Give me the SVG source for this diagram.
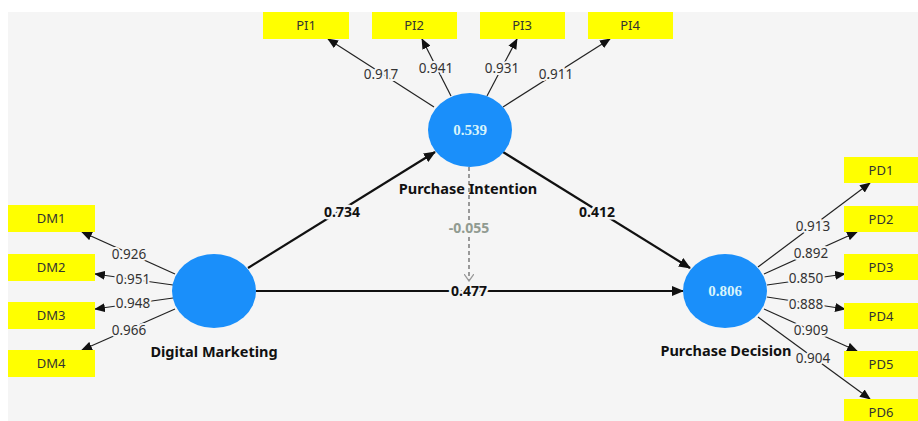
<svg xmlns="http://www.w3.org/2000/svg" width="918" height="421" viewBox="0 0 918 421">
<defs>
<marker id="ah" viewBox="0 0 12 10" refX="11" refY="5" markerWidth="12" markerHeight="10" markerUnits="userSpaceOnUse" orient="auto"><path d="M0,0 L12,5 L0,10 z" fill="#111"/></marker>
<marker id="ahs" viewBox="0 0 12 10" refX="11" refY="5" markerWidth="11" markerHeight="9" markerUnits="userSpaceOnUse" orient="auto"><path d="M0,0 L12,5 L0,10 z" fill="#111"/></marker>
<marker id="chev" viewBox="0 0 8 10" refX="7" refY="5" markerWidth="8" markerHeight="10" markerUnits="userSpaceOnUse" orient="auto"><path d="M0,0 L7,5 L0,10" fill="none" stroke="#999" stroke-width="1.3"/></marker>
</defs>
<style>
.bg{fill:#f5f5f5}
.lv{fill:#1a8ffa}
.ind{fill:#ffff00}
.it{font-family:"Noto Sans","Open Sans","DejaVu Sans",sans-serif;font-size:13px;fill:#333;text-anchor:middle}
.nl{font-family:"Noto Sans","Open Sans","DejaVu Sans",sans-serif;font-size:14.5px;font-weight:bold;fill:#111;text-anchor:middle}
.r2{font-family:"Liberation Serif","DejaVu Serif",serif;font-size:15px;font-weight:bold;fill:#d8f4fb;text-anchor:middle}
.outer{stroke:#222;stroke-width:1.2;fill:none;marker-end:url(#ahs)}
.inner{stroke:#111;stroke-width:2.2;fill:none;marker-end:url(#ah)}
.dash{stroke:#999;stroke-width:2;stroke-dasharray:4 3;fill:none;marker-end:url(#chev)}
.ll{font-family:"Noto Sans","Open Sans","DejaVu Sans",sans-serif;font-size:13.5px;fill:#333;text-anchor:middle;stroke:#f5f5f5;stroke-width:4;paint-order:stroke}
.pl{font-family:"Noto Sans","Open Sans","DejaVu Sans",sans-serif;font-size:14px;font-weight:bold;fill:#111;text-anchor:middle;stroke:#f5f5f5;stroke-width:5;paint-order:stroke}
.pg{font-family:"Noto Sans","Open Sans","DejaVu Sans",sans-serif;font-size:14px;font-weight:bold;fill:#919b91;text-anchor:middle;stroke:#f5f5f5;stroke-width:5;paint-order:stroke}
</style>
<rect class="bg" x="8" y="12" width="910" height="409"/>

<g id="connectors">
<line class="inner" x1="248" y1="268" x2="435" y2="152"/>
<line class="inner" x1="503" y1="152" x2="690" y2="268"/>
<line class="inner" x1="256" y1="291" x2="683" y2="291"/>
<line class="dash" x1="469" y1="167" x2="469" y2="281"/>
<line class="outer" x1="434" y1="107" x2="328" y2="39"/>
<line class="outer" x1="451" y1="96" x2="422" y2="39"/>
<line class="outer" x1="487" y1="96" x2="517" y2="39"/>
<line class="outer" x1="503" y1="107" x2="610" y2="39"/>
<line class="outer" x1="175" y1="274" x2="82" y2="232"/>
<line class="outer" x1="173" y1="285" x2="95" y2="274"/>
<line class="outer" x1="173" y1="298" x2="95" y2="309"/>
<line class="outer" x1="175" y1="309" x2="82" y2="350"/>
<line class="outer" x1="758" y1="267" x2="870" y2="183"/>
<line class="outer" x1="764" y1="274" x2="857" y2="232"/>
<line class="outer" x1="767" y1="285" x2="845" y2="274"/>
<line class="outer" x1="767" y1="297" x2="845" y2="309"/>
<line class="outer" x1="764" y1="309" x2="857" y2="351"/>
<line class="outer" x1="758" y1="317" x2="870" y2="399"/>
<text class="pl" x="342" y="217">0.734</text>
<text class="pl" x="597" y="217">0.412</text>
<text class="pl" x="469" y="296">0.477</text>
<text class="pg" x="469" y="233">-0.055</text>
<text class="ll" x="381" y="79">0.917</text>
<text class="ll" x="436" y="73">0.941</text>
<text class="ll" x="502" y="73">0.931</text>
<text class="ll" x="556" y="79">0.911</text>
<text class="ll" x="129" y="259">0.926</text>
<text class="ll" x="133" y="284">0.951</text>
<text class="ll" x="133" y="308">0.948</text>
<text class="ll" x="129" y="335">0.966</text>
<text class="ll" x="813" y="231">0.913</text>
<text class="ll" x="811" y="258">0.892</text>
<text class="ll" x="806" y="283">0.850</text>
<text class="ll" x="806" y="309">0.888</text>
<text class="ll" x="811" y="335">0.909</text>
<text class="ll" x="813" y="363">0.904</text>
</g>

<g id="PI">
<ellipse class="lv" cx="470" cy="130" rx="42" ry="37"/>
<text class="r2" x="470" y="135">0.539</text>
<text class="nl" x="468" y="194">Purchase Intention</text>
</g>
<g id="DM">
<ellipse class="lv" cx="214" cy="291" rx="42" ry="37"/>
<text class="nl" x="214" y="357">Digital Marketing</text>
</g>
<g id="PD">
<ellipse class="lv" cx="725" cy="291" rx="42" ry="37"/>
<text class="r2" x="725" y="296">0.806</text>
<text class="nl" x="726" y="356">Purchase Decision</text>
</g>

<g id="PI1"><rect class="ind" x="263" y="12" width="86" height="27"/><text class="it" x="306" y="30">PI1</text></g>
<g id="PI2"><rect class="ind" x="372" y="12" width="85" height="27"/><text class="it" x="414" y="30">PI2</text></g>
<g id="PI3"><rect class="ind" x="480" y="12" width="85" height="27"/><text class="it" x="522" y="30">PI3</text></g>
<g id="PI4"><rect class="ind" x="588" y="12" width="85" height="27"/><text class="it" x="630" y="30">PI4</text></g>

<g id="DM1"><rect class="ind" x="8" y="205" width="87" height="27"/><text class="it" x="51" y="223">DM1</text></g>
<g id="DM2"><rect class="ind" x="8" y="254" width="87" height="27"/><text class="it" x="51" y="272">DM2</text></g>
<g id="DM3"><rect class="ind" x="8" y="302" width="87" height="27"/><text class="it" x="51" y="320">DM3</text></g>
<g id="DM4"><rect class="ind" x="8" y="350" width="87" height="27"/><text class="it" x="51" y="368">DM4</text></g>

<g id="PD1"><rect class="ind" x="844" y="157" width="80" height="26"/><text class="it" x="881" y="175">PD1</text></g>
<g id="PD2"><rect class="ind" x="844" y="206" width="80" height="26"/><text class="it" x="881" y="224">PD2</text></g>
<g id="PD3"><rect class="ind" x="844" y="254" width="80" height="26"/><text class="it" x="881" y="272">PD3</text></g>
<g id="PD4"><rect class="ind" x="844" y="303" width="80" height="26"/><text class="it" x="881" y="321">PD4</text></g>
<g id="PD5"><rect class="ind" x="844" y="351" width="80" height="26"/><text class="it" x="881" y="369">PD5</text></g>
<g id="PD6"><rect class="ind" x="844" y="399" width="80" height="26"/><text class="it" x="881" y="417">PD6</text></g>
</svg>
